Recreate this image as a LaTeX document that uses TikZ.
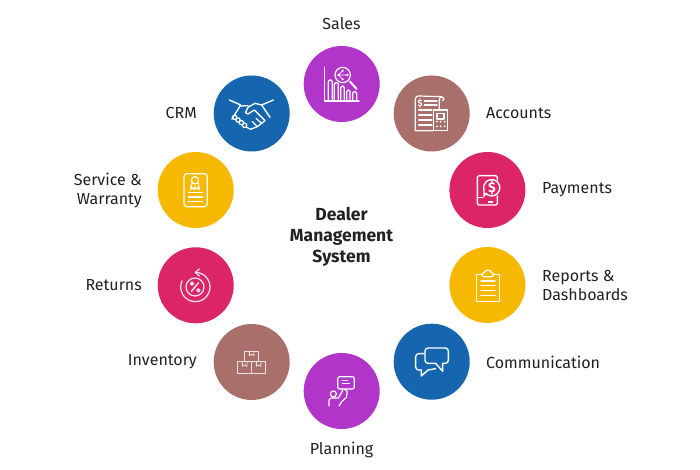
\documentclass[tikz,border=0pt]{standalone}
\usepackage{fontspec}
\setmainfont{Fira Sans}
\definecolor{cpurple}{HTML}{B135C8}
\definecolor{cbrown}{HTML}{A96F6B}
\definecolor{cpink}{HTML}{DC2566}
\definecolor{cblue}{HTML}{1566AE}
\definecolor{cyellow}{HTML}{F7B801}
\definecolor{ctext}{HTML}{222222}
\tikzset{
  disc/.style={circle,minimum size=76pt,inner sep=0pt,fill=#1},
  lab/.style={text=ctext,font=\fontsize{16pt}{19pt}\selectfont,align=center,inner sep=0pt},
  zoomat/.style 2 args={x=.33333pt,y=-.33333pt,shift={(#1pt,-#2pt)}},
  ic/.style={draw=white,line width=1.2pt,line join=round,line cap=round},
  icthin/.style={draw=white!80!cbrown,line width=.9pt,line join=round,line cap=round},
}
\begin{document}
\begin{tikzpicture}[x=1pt,y=-1pt]
\useasboundingbox (0,0) rectangle (700,470);
\fill[white] (0,0) rectangle (700,470);
% discs
\node[disc=cpurple] (sales) at (341.7,84) {};
\node[disc=cbrown] (accounts) at (431.7,113.5) {};
\node[disc=cpink] (payments) at (487.4,190) {};
\node[disc=cyellow] (reports) at (487.4,285) {};
\node[disc=cblue] (comm) at (431.7,361.7) {};
\node[disc=cpurple] (planning) at (341.7,391) {};
\node[disc=cbrown] (inventory) at (251.7,362) {};
\node[disc=cpink] (returns) at (195.7,285.3) {};
\node[disc=cyellow] (service) at (195.7,190) {};
\node[disc=cblue] (crm) at (251.7,113.5) {};
% labels
\node[lab] (lsales) at (341.5,24) {Sales};
\node[lab,anchor=west] (laccounts) at (486,113) {Accounts};
\node[lab,anchor=west] (lpayments) at (542,190) {Payments};
\node[lab,anchor=west,align=left] (lreports) at (542,285) {Reports \&\\Dashboards};
\node[lab,anchor=west] (lcomm) at (486,362) {Communication};
\node[lab] (lplanning) at (341.5,450) {Planning};
\node[lab,anchor=east] (linventory) at (197,362) {Inventory};
\node[lab,anchor=east] (lreturns) at (142,285) {Returns};
\node[lab,anchor=east,align=right] (lservice) at (142,190) {Service \&\\Warranty};
\node[lab,anchor=east] (lcrm) at (197,113) {CRM};
\node[lab,font=\fontsize{17.5pt}{21pt}\selectfont\bfseries] (title) at (341.5,237) {Dealer\\Management\\System};
% Sales icon
\begin{scope}[zoomat={300}{40}]
\draw[ic] (73,82)--(73,183)--(177,183);
\foreach \a/\b/\t in {85/97/120,103/115/128,122/133/138,140/150/150,158/170/155}
  \draw[ic,rounded corners=1.5pt] (\a,178)--(\a,\t)--(\b,\t)--(\b,178);
\fill[cpurple] (128,105) circle (23);
\draw[ic] (128,105) circle (23);
\draw[ic,line width=2pt] (150,125)--(170,147);
\draw[ic,line width=.7pt] (115,105)--(128,92) (115,105)--(128,118) (115,105)--(140,105);
\fill[white] (115,105) circle (4) (128,92) circle (3.5) (128,118) circle (3.5) (142,105) circle (3.5);
\end{scope}
% Accounts icon
\begin{scope}[zoomat={300}{40}]
\draw[ic] (418,208)--(418,178) arc[start angle=180,end angle=360,radius=7] (432,178)--(426,182);
\draw[ic] (425,170)--(355,168) arc[start angle=-90,end angle=-180,radius=9]--(346,272)--(400,272);
\foreach \y in {210,225,240,255} \draw[ic] (356,\y)--(396,\y);
\draw[ic] (373,183)--(411,183) (373,195)--(411,195);
\node[text=white,inner sep=0pt,font=\fontsize{9pt}{9pt}\selectfont\bfseries] (dollarA) at (360,189) {\$};
\draw[ic] (400,210) rectangle (443,272);
\draw[ic] (411,220) rectangle (432,237);
\foreach \y in {245,259} \foreach \x in {411,422,434}
  \fill[white] (\x,\y) circle (3.2);
\end{scope}
% CRM icon
\begin{scope}[zoomat={220}{90}]
\draw[ic,line width=1.4pt] (28,30)--(62,45)--(36,87);
\draw[ic,line width=1.4pt] (160,30)--(125,45)--(150,82);
\draw[ic,line width=1.3pt] (62,48)--(84,47) (105,40)--(125,45);
\draw[ic,line width=1.3pt] (105,40)--(84,52)--(76,68)--(84,72)--(103,60)--(135,92)--(125,100)--(108,85);
\draw[ic,line width=1.3pt] (125,100)--(112,110)--(97,95) (112,110)--(92,118)--(80,112);
\foreach \p in {(44,82),(54,90),(64,98),(74,106)} \draw[ic] \p circle (6.5);
\end{scope}
% Service icon
\begin{scope}[zoomat={150}{70}]
\draw[ic,rounded corners=3pt] (102,311) rectangle (172,410);
\draw[ic] (135,331) circle (11);
\draw[ic] (126,339)--(121,358)--(127,353)--(132,358)--(135,350)--(139,358)--(144,353)--(149,358)--(144,339);
\draw[ic] (115,368)--(158,368) (115,381)--(158,381) (115,395)--(158,395);
\end{scope}
% Payments icon
\begin{scope}[zoomat={440}{145}]
\draw[ic,line width=1.4pt,rounded corners=1.5pt] (172,105)--(172,92)--(112,92)--(112,180)--(172,180)--(172,152);
\draw[ic,line width=1.4pt] (129,157)--(112,157);
\fill[white] (145,168) rectangle (160,173);
\fill[cpink] (155,128) circle (24);
\draw[ic,line width=1.4pt] (137,145) arc[start angle=137,end angle=-200,radius=24.5]--(132,154)--cycle;
\node[text=white,inner sep=0pt,font=\fontsize{14pt}{14pt}\selectfont\bfseries] (dollarP) at (156,128) {\$};
\end{scope}
% Reports icon
\begin{scope}[zoomat={440}{145}]
\draw[ic] (126,388)--(110,388)--(110,470)--(178,470)--(178,388)--(160,388);
\draw[ic,rounded corners=2pt] (126,395)--(126,383)--(136,383) arc[start angle=180,end angle=360,radius=7.5]--(160,383)--(160,395)--cycle;
\foreach \y in {408,422,437,452} \draw[ic] (123,\y)--(165,\y);
\end{scope}
% Returns icon
\begin{scope}[zoomat={150}{240}]
\draw[ic,white!90!cpink] (136,97) arc[start angle=-90,end angle=205,radius=44];
\draw[ic,white!90!cpink] (148,87)--(136,97)--(148,108);
\draw[ic,white!90!cpink] (135,141) circle (27);
\draw[ic,white!90!cpink,line width=1.4pt] (146,128)--(124,154);
\draw[ic,white!90!cpink,line width=1.4pt] (126,131) circle (4.5) (145,151) circle (4.5);
\end{scope}
% Inventory icon
\begin{scope}[zoomat={150}{240}]
\draw[icthin] (284,365)--(284,333)--(326,333)--(326,365);
\draw[icthin] (263,365) rectangle (305,400);
\draw[icthin] (305,365) rectangle (347,400);
\draw[icthin] (298,333)--(298,347)--(305,343)--(312,347)--(312,333);
\draw[icthin] (277,365)--(277,379)--(284,375)--(291,379)--(291,365);
\draw[icthin] (319,365)--(319,379)--(326,375)--(333,379)--(333,365);
\end{scope}
% Planning icon
\begin{scope}[zoomat={295}{320}]
\draw[ic,rounded corners=2pt] (128,170) rectangle (178,207);
\draw[ic,line width=.9pt] (141,180)--(157,180) (141,189)--(165,189);
\draw[ic] (115,222) circle (9);
\draw[ic] (102,258)--(102,240) to[out=90,in=180] (115,234)--(130,234)--(142,214)--(142,207);
\draw[ic] (148,207)--(157,214)--(154,232)--(140,245)--(132,258);
\end{scope}
% Communication icon
\begin{scope}[zoomat={295}{320}]
\draw[ic,rounded corners=3pt,line width=1.4pt] (443,130)--(460,130)--(460,84)--(390,84)--(390,130)--(422,130);
\draw[ic,line width=1.4pt] (443,130)--(443,154)--(422,130);
\draw[ic,rounded corners=3pt,line width=1.4pt] (388,101)--(362,101)--(362,150)--(379,150);
\draw[ic,line width=1.4pt] (379,150)--(379,168)--(399,150)--(422,146);
\end{scope}
\end{tikzpicture}
\end{document}
